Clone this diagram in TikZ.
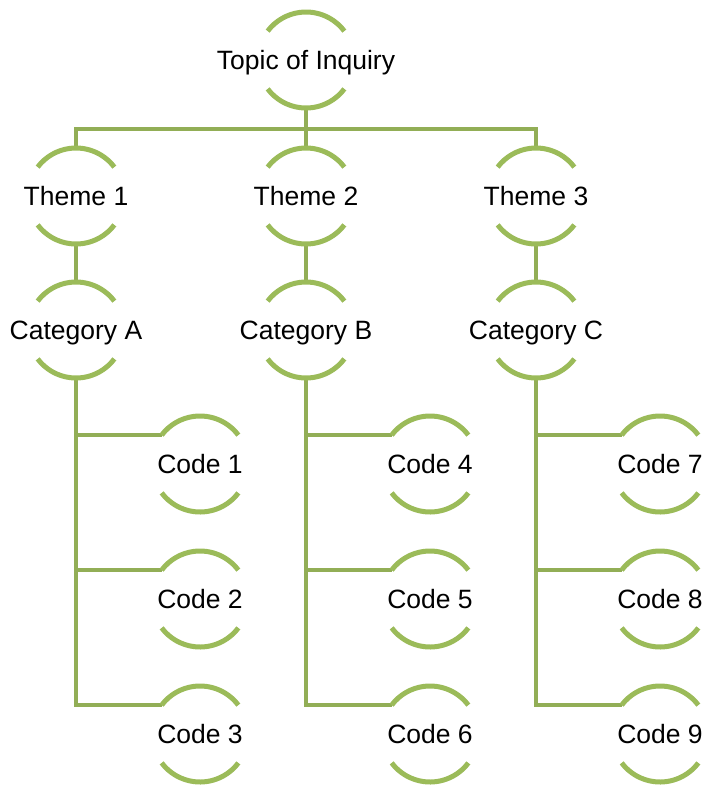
\documentclass[tikz,border=0pt]{standalone}
\usepackage{fontspec}
\setmainfont{Liberation Sans}
\usetikzlibrary{calc, positioning}

\definecolor{olive}{RGB}{155,187,89}
\definecolor{olivedark}{RGB}{146,174,86}

\tikzset{
  ring/.style={circle, minimum size=96pt, inner sep=0pt, outer sep=0pt,
    label={[lbl]center:#1}},
  lbl/.style={font=\fontsize{26.5}{31}\selectfont, text height=19pt, text depth=0pt, inner sep=0pt},
  arcline/.style={draw=olive, line width=5pt},
  link/.style={draw=olivedark, line width=4.5pt}
}

\begin{document}
\begin{tikzpicture}[x=1pt, y=1pt]
\def\rad{48}
\def\sweep{37}
\useasboundingbox (0,0) rectangle (702,-785);

\node[ring={Topic of Inquiry}] (topic) at (306,-60) {};
\node[ring={Theme 1}] (th1) at (76,-196) {};
\node[ring={Theme 2}] (th2) at (306,-196) {};
\node[ring={Theme 3}] (th3) at (536,-196) {};
\node[ring={Category A}] (catA) at (76,-330) {};
\node[ring={Category B}] (catB) at (306,-330) {};
\node[ring={Category C}] (catC) at (536,-330) {};
\node[ring={Code 1}] (code1) at (200,-464) {};
\node[ring={Code 2}] (code2) at (200,-599) {};
\node[ring={Code 3}] (code3) at (200,-734) {};
\node[ring={Code 4}] (code4) at (430,-464) {};
\node[ring={Code 5}] (code5) at (430,-599) {};
\node[ring={Code 6}] (code6) at (430,-734) {};
\node[ring={Code 7}] (code7) at (660,-464) {};
\node[ring={Code 8}] (code8) at (660,-599) {};
\node[ring={Code 9}] (code9) at (660,-734) {};

\coordinate (bar) at (306,-129);

% top bracket
\draw[link] (topic.south) -- (bar);
\draw[link] (th1.north) |- (bar) -| (th3.north);
\draw[link] (bar) -- (th2.north);

% themes to categories
\draw[link] (th1.south) -- (catA.north);
\draw[link] (th2.south) -- (catB.north);
\draw[link] (th3.south) -- (catC.north);

% categories to codes
\foreach \c/\a/\b/\d in {catA/code1/code2/code3, catB/code4/code5/code6, catC/code7/code8/code9} {
  \draw[link] (\c.south) |- (\d.180-\sweep);
  \draw[link] (\c.south |- \a.180-\sweep) -- (\a.180-\sweep);
  \draw[link] (\c.south |- \b.180-\sweep) -- (\b.180-\sweep);
}

% open rings
\foreach \n in {topic, th1, th2, th3, catA, catB, catC,
                code1, code2, code3, code4, code5, code6, code7, code8, code9} {
  \draw[arcline] (\n.\sweep) arc[start angle=\sweep, end angle=180-\sweep, radius=\rad pt];
  \draw[arcline] (\n.-\sweep) arc[start angle=-\sweep, end angle=-180+\sweep, radius=\rad pt];
}
\end{tikzpicture}
\end{document}
